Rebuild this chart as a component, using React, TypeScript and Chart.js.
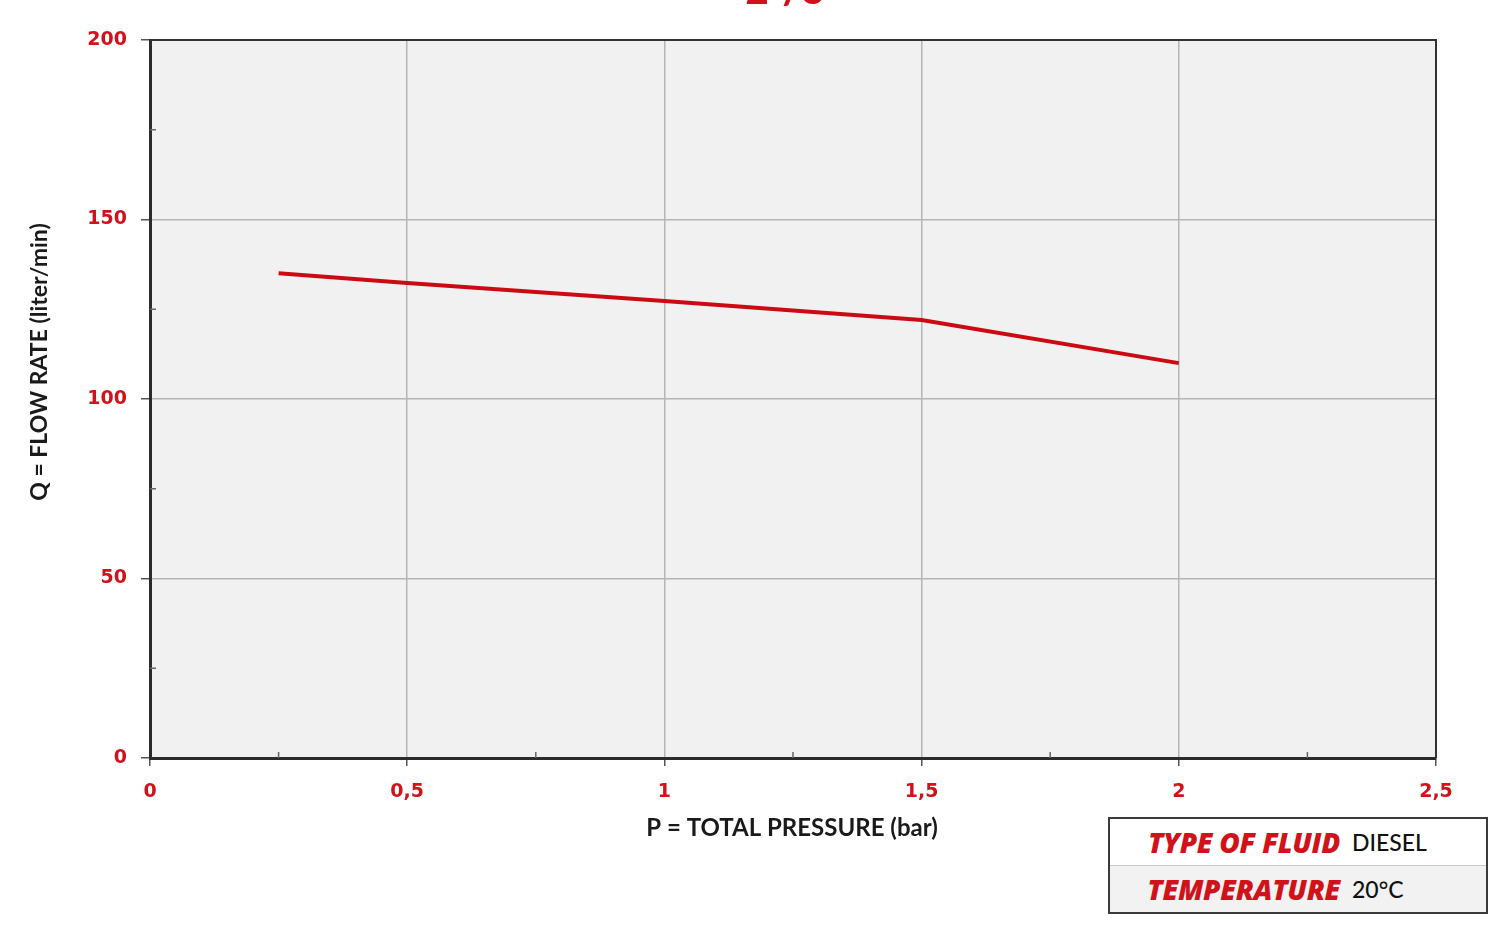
import React, { useEffect, useRef } from "react";
import { Chart, registerables } from "chart.js";

Chart.register(...registerables);

const pressureBar = [0.25, 0.5, 1, 1.5, 2];
const flowRateLpm = [135, 132.3, 127.3, 122, 110];
const xMinorTicks = [0.25, 0.75, 1.25, 1.75, 2.25];
const yMinorTicks = [25, 75, 125, 175];
const chartTitle = "2”/3";
const xTitle = "P = TOTAL PRESSURE (bar)";
const yTitle = "Q = FLOW RATE (liter/min)";
const infoLabels = ["TYPE OF FLUID", "TEMPERATURE"];
const infoValues = ["DIESEL", "20°C"];

const RED = "#d0121b";
const FONT = "Lato, 'Open Sans', sans-serif";
const WIDE = "'Open Sans', Lato, sans-serif";
const TICKFONT = "'DejaVu Sans', 'Open Sans', sans-serif";

const decorPlugin = {
  id: "decor",
  beforeDraw(chart: any) {
    const { ctx, chartArea: a } = chart;
    ctx.save();
    ctx.fillStyle = "#f1f1f1";
    ctx.fillRect(a.left, a.top, a.right - a.left, a.bottom - a.top);
    ctx.restore();
  },
  afterDraw(chart: any) {
    const { ctx, chartArea: a, scales } = chart;
    ctx.save();
    ctx.strokeStyle = "#333";
    ctx.lineWidth = 2;
    ctx.beginPath();
    ctx.moveTo(a.left, a.top);
    ctx.lineTo(a.right, a.top);
    ctx.lineTo(a.right, a.bottom);
    ctx.stroke();
    ctx.strokeStyle = "#666";
    ctx.lineWidth = 1.5;
    ctx.beginPath();
    xMinorTicks.forEach((v) => {
      const x = scales.x.getPixelForValue(v);
      ctx.moveTo(x, a.bottom);
      ctx.lineTo(x, a.bottom - 6);
    });
    yMinorTicks.forEach((v) => {
      const y = scales.y.getPixelForValue(v);
      ctx.moveTo(a.left, y);
      ctx.lineTo(a.left + 6, y);
    });
    ctx.stroke();
    ctx.fillStyle = "#1a1a1a";
    ctx.font = `bold 24px ${FONT}`;
    ctx.textAlign = "center";
    ctx.textBaseline = "middle";
    ctx.fillText(xTitle, (a.left + a.right) / 2 - 1, 828);
    ctx.translate(40, 362);
    ctx.rotate(-Math.PI / 2);
    ctx.font = `bold 23px ${FONT}`;
    ctx.fillText(yTitle, 0, 0);
    ctx.restore();
  },
};

export default function App() {
  const canvasRef = useRef<HTMLCanvasElement | null>(null);

  useEffect(() => {
    const canvas = canvasRef.current;
    if (!canvas) return;
    const fmt = (v: any) => String(v).replace(".", ",");
    const chart = new Chart(canvas, {
      type: "line",
      data: {
        datasets: [
          {
            data: pressureBar.map((p, i) => ({ x: p, y: flowRateLpm[i] })),
            borderColor: "#cc0a14",
            borderWidth: 4,
            pointRadius: 0,
            tension: 0,
            fill: false,
          },
        ],
      },
      options: {
        animation: false,
        responsive: false,
        devicePixelRatio: 1,
        layout: { padding: { top: 40, right: 64, bottom: 76, left: 0 } },
        plugins: { legend: { display: false }, tooltip: { enabled: false } },
        scales: {
          x: {
            type: "linear",
            min: 0,
            max: 2.5,
            afterFit: (s: any) => {
              s.height = 100;
            },
            ticks: {
              stepSize: 0.5,
              padding: 15,
              color: RED,
              font: { family: TICKFONT, weight: "bold", size: 19 },
              callback: fmt,
              maxRotation: 0,
            },
            grid: {
              color: "#b5b5b5",
              lineWidth: 1.5,
              tickColor: "#555",
              tickLength: 8,
            },
            border: { color: "#2b2b2b", width: 3 },
          },
          y: {
            type: "linear",
            min: 0,
            max: 200,
            afterFit: (s: any) => {
              s.width = 150;
            },
            ticks: {
              stepSize: 50,
              padding: 14,
              color: RED,
              font: { family: TICKFONT, weight: "bold", size: 19 },
              callback: fmt,
            },
            grid: {
              color: "#b5b5b5",
              lineWidth: 1.5,
              tickColor: "#555",
              tickLength: 9,
            },
            border: { color: "#2b2b2b", width: 3 },
          },
        },
      },
      plugins: [decorPlugin],
    } as any);
    return () => chart.destroy();
  }, []);

  const rowLabel: React.CSSProperties = {
    width: 230,
    textAlign: "right",
    color: RED,
    fontStyle: "italic",
    fontWeight: 800,
    fontSize: 28,
    fontFamily: WIDE,
    letterSpacing: -0.3,
    whiteSpace: "nowrap",
  };
  const rowValue: React.CSSProperties = {
    marginLeft: 12,
    color: "#111",
    fontWeight: 500,
    fontSize: 23,
  };

  return (
    <div
      style={{
        position: "absolute",
        left: 0,
        top: 0,
        width: 1500,
        height: 934,
        background: "#fff",
        overflow: "hidden",
        fontFamily: FONT,
      }}
    >
      <canvas
        ref={canvasRef}
        width={1500}
        height={934}
        style={{ position: "absolute", left: 0, top: 0, width: 1500, height: 934 }}
      />
      <div
        style={{
          position: "absolute",
          left: 685,
          width: 200,
          top: -31,
          textAlign: "center",
          color: RED,
          fontWeight: 900,
          fontSize: 40,
          lineHeight: "40px",
        }}
      >
        {chartTitle}
      </div>
      <div
        style={{
          position: "absolute",
          left: 1108,
          top: 817,
          width: 376,
          height: 93,
          border: "2px solid #3a3a3a",
          background: "#fff",
          boxSizing: "content-box",
        }}
      >
        {infoLabels.map((lab, i) => (
          <div
            key={lab}
            style={{
              height: 46,
              display: "flex",
              alignItems: "center",
              background: i === 1 ? "#f2f2f2" : "#fff",
              borderTop: i === 1 ? "1px solid #c8c8c8" : "none",
            }}
          >
            <span style={rowLabel}>{lab}</span>
            <span style={rowValue}>{infoValues[i]}</span>
          </div>
        ))}
      </div>
    </div>
  );
}
